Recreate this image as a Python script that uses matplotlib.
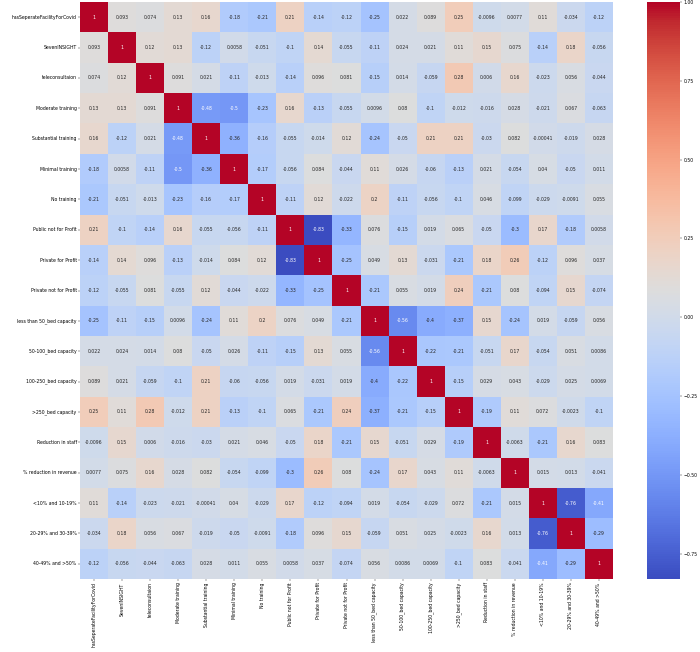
import matplotlib.pyplot as plt
import numpy as np
import pandas as pd
import seaborn as sns

labels = ['hasSeperateFacilityForCovid', 'SevenINSIGHT', 'teleconsultaion',
          'Moderate training', 'Substantial training', 'Minimal training',
          'No training', 'Public not for Profit', 'Private for Profit',
          'Private not for Profit', 'less than 50_bed capacity',
          '50-100_bed capacity', '100-250_bed capacity', '>250_bed capacity',
          'Reduction in staff', '% reduction in revenue', '<10% and 10-19%',
          '20-29% and 30-39%', '40-49% and >50%']

r_facility = [1, 0.093, 0.074, 0.13, 0.16, -0.18, -0.21, 0.21, -0.14, -0.12, -0.25, 0.022, 0.089, 0.25, -0.0096, 0.0077, 0.11, -0.034, -0.12]
r_seven = [0.093, 1, 0.12, 0.13, -0.12, 0.0058, -0.051, -0.1, 0.14, -0.055, -0.11, 0.024, 0.021, 0.11, 0.15, 0.075, -0.14, 0.18, -0.056]
r_tele = [0.074, 0.12, 1, 0.091, 0.021, -0.11, -0.013, -0.14, 0.096, 0.081, -0.15, 0.014, -0.059, 0.28, 0.006, 0.16, -0.023, 0.056, -0.044]
r_moderate = [0.13, 0.13, 0.091, 1, -0.48, -0.5, -0.23, 0.16, -0.13, -0.055, 0.0096, 0.08, -0.1, -0.012, -0.016, 0.028, -0.021, 0.067, -0.063]
r_substantial = [0.16, -0.12, 0.021, -0.48, 1, -0.36, -0.16, -0.055, -0.014, 0.12, -0.24, -0.05, 0.21, 0.21, -0.03, 0.082, -0.00041, -0.019, 0.028]
r_minimal = [-0.18, 0.0058, -0.11, -0.5, -0.36, 1, -0.17, -0.056, 0.084, -0.044, 0.11, 0.026, -0.06, -0.13, 0.021, -0.054, 0.04, -0.05, 0.011]
r_none = [-0.21, -0.051, -0.013, -0.23, -0.16, -0.17, 1, -0.11, 0.12, -0.022, 0.2, -0.11, -0.056, -0.1, 0.046, -0.099, -0.029, -0.0091, 0.055]
r_public = [0.21, -0.1, -0.14, 0.16, -0.055, -0.056, -0.11, 1, -0.83, -0.33, 0.076, -0.15, 0.019, 0.065, -0.05, -0.3, 0.17, -0.18, 0.0058]
r_private = [-0.14, 0.14, 0.096, -0.13, -0.014, 0.084, 0.12, -0.83, 1, -0.25, 0.049, 0.13, -0.031, -0.21, 0.18, 0.26, -0.12, 0.096, 0.037]
r_private_np = [-0.12, -0.055, 0.081, -0.055, 0.12, -0.044, -0.022, -0.33, -0.25, 1, -0.21, 0.055, 0.019, 0.24, -0.21, 0.08, -0.094, 0.15, -0.074]
r_lt50 = [-0.25, -0.11, -0.15, 0.0096, -0.24, 0.11, 0.2, 0.076, 0.049, -0.21, 1, -0.56, -0.4, -0.37, 0.15, -0.24, 0.019, -0.059, 0.056]
r_50_100 = [0.022, 0.024, 0.014, 0.08, -0.05, 0.026, -0.11, -0.15, 0.13, 0.055, -0.56, 1, -0.22, -0.21, -0.051, 0.17, -0.054, 0.051, 0.0086]
r_100_250 = [0.089, 0.021, -0.059, -0.1, 0.21, -0.06, -0.056, 0.019, -0.031, 0.019, -0.4, -0.22, 1, -0.15, 0.029, 0.043, -0.029, 0.025, 0.0069]
r_gt250 = [0.25, 0.11, 0.28, -0.012, 0.21, -0.13, -0.1, 0.065, -0.21, 0.24, -0.37, -0.21, -0.15, 1, -0.19, 0.11, 0.072, -0.0023, -0.1]
r_staff = [-0.0096, 0.15, 0.006, -0.016, -0.03, 0.021, 0.046, -0.05, 0.18, -0.21, 0.15, -0.051, 0.029, -0.19, 1, -0.0063, -0.21, 0.16, 0.083]
r_revenue = [0.0077, 0.075, 0.16, 0.028, 0.082, -0.054, -0.099, -0.3, 0.26, 0.08, -0.24, 0.17, 0.043, 0.11, -0.0063, 1, 0.015, 0.013, -0.041]
r_lt10 = [0.11, -0.14, -0.023, -0.021, -0.00041, 0.04, -0.029, 0.17, -0.12, -0.094, 0.019, -0.054, -0.029, 0.072, -0.21, 0.015, 1, -0.76, -0.41]
r_20_39 = [-0.034, 0.18, 0.056, 0.067, -0.019, -0.05, -0.0091, -0.18, 0.096, 0.15, -0.059, 0.051, 0.025, -0.0023, 0.16, 0.013, -0.76, 1, -0.29]
r_40_50 = [-0.12, -0.056, -0.044, -0.063, 0.028, 0.011, 0.055, 0.0058, 0.037, -0.074, 0.056, 0.0086, 0.0069, -0.1, 0.083, -0.041, -0.41, -0.29, 1]

corr = pd.DataFrame([r_facility, r_seven, r_tele, r_moderate, r_substantial,
                     r_minimal, r_none, r_public, r_private, r_private_np,
                     r_lt50, r_50_100, r_100_250, r_gt250, r_staff, r_revenue,
                     r_lt10, r_20_39, r_40_50], index=labels, columns=labels)

dpi = 33.5
fig = plt.figure(figsize=(700 / dpi, 652 / dpi), dpi=dpi)
ax = fig.add_axes([80 / 700, 1 - 579 / 652, 533 / 700, 577 / 652])
cax = fig.add_axes([647 / 700, 1 - 579 / 652, 33 / 700, 577 / 652])
sns.heatmap(corr, annot=True, cmap='coolwarm', ax=ax, cbar_ax=cax)
fig.savefig('out.png', dpi=dpi)
